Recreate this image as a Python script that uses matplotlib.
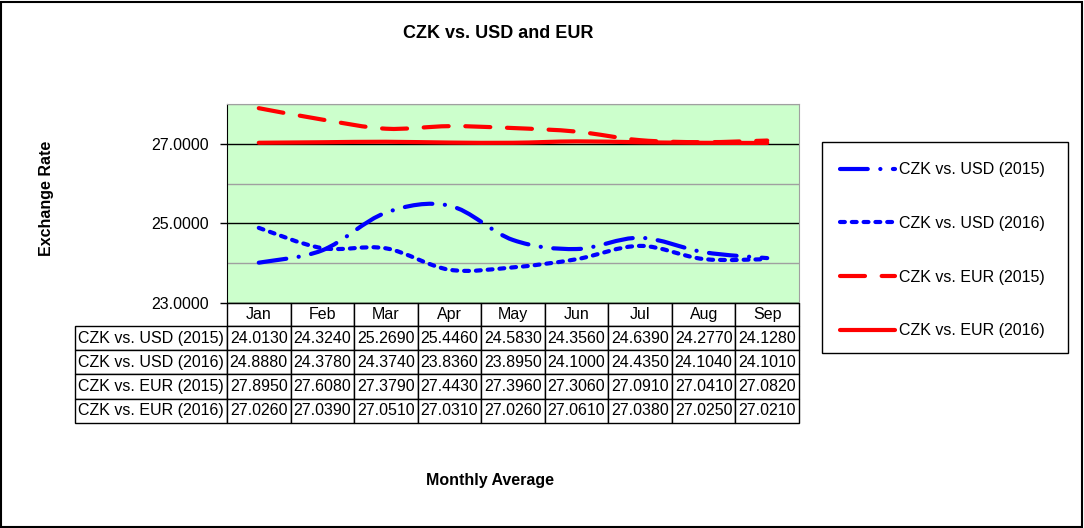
import matplotlib
matplotlib.use("Agg")
import matplotlib.pyplot as plt
import numpy as np
from matplotlib.path import Path
from matplotlib.patches import PathPatch, Rectangle
from matplotlib.lines import Line2D

# Data
months = ['Jan', 'Feb', 'Mar', 'Apr', 'May', 'Jun', 'Jul', 'Aug', 'Sep']
usd_2015 = [24.0130, 24.3240, 25.2690, 25.4460, 24.5830, 24.3560, 24.6390, 24.2770, 24.1280]
usd_2016 = [24.8880, 24.3780, 24.3740, 23.8360, 23.8950, 24.1000, 24.4350, 24.1040, 24.1010]
eur_2015 = [27.8950, 27.6080, 27.3790, 27.4430, 27.3960, 27.3060, 27.0910, 27.0410, 27.0820]
eur_2016 = [27.0260, 27.0390, 27.0510, 27.0310, 27.0260, 27.0610, 27.0380, 27.0250, 27.0210]
labels = ['CZK vs. USD (2015)', 'CZK vs. USD (2016)', 'CZK vs. EUR (2015)', 'CZK vs. EUR (2016)']

# Set params
fs = 11.5
plt.rcParams.update({'font.family': 'Liberation Sans', 'font.size': fs,
                     'lines.scale_dashes': False})

W, H = 1084, 528
fig = plt.figure(figsize=(W / 100, H / 100), dpi=100)
ax = fig.add_axes([227 / W, 1 - 303 / H, 572 / W, 199 / H])
ax.set_facecolor('#CCFFCC')

x = np.arange(len(months))


def smooth_path(xs, ys):
    # Excel style smoothed line: bezier segments through the data points
    pts = np.column_stack([xs, ys]).astype(float)
    verts = [pts[0]]
    codes = [Path.MOVETO]
    n = len(pts)
    for i in range(n - 1):
        p0 = pts[i - 1] if i > 0 else pts[i]
        p1 = pts[i]
        p2 = pts[i + 1]
        p3 = pts[i + 2] if i + 2 < n else pts[i + 1]
        c1 = p1 + (p2 - p0) / 6.0
        c2 = p2 - (p3 - p1) / 6.0
        verts += [c1, c2, p2]
        codes += [Path.CURVE4] * 3
    return Path(verts, codes)


lw = 3
styles = [
    ('#0000FF', (0, (20, 9, 0.1, 9))),
    ('#0000FF', (0, (3.5, 5))),
    ('#FF0000', (0, (18, 12))),
    ('#FF0000', 'solid'),
]
series = [usd_2015, usd_2016, eur_2015, eur_2016]

handles = []
for ys, (col, ls), lab in zip(series, styles, labels):
    p = PathPatch(smooth_path(x, ys), fill=False, edgecolor=col, lw=lw,
                  linestyle=ls, capstyle='round', joinstyle='round', zorder=3)
    ax.add_patch(p)
    handles.append(Line2D([], [], color=col, lw=lw, linestyle=ls,
                          dash_capstyle='round', solid_capstyle='round'))

ax.set_xlim(-0.5, len(months) - 0.5)
ax.set_ylim(23, 28)

# gridlines
ax.set_yticks([23, 25, 27])
ax.set_yticks([24, 26, 28], minor=True)
ax.yaxis.set_major_formatter(matplotlib.ticker.FormatStrFormatter('%.4f'))
ax.grid(axis='y', which='major', color='black', lw=1)
ax.grid(axis='y', which='minor', color='#A0A0A0', lw=1)
ax.tick_params(axis='y', which='major', length=5, width=1, direction='out', pad=8,
               labelsize=fs)
ax.tick_params(axis='y', which='minor', length=0)
ax.set_axisbelow(True)
ax.set_xticks([])
for s in ['top', 'right']:
    ax.spines[s].set_color('#A0A0A0')
ax.spines['left'].set_color('black')
ax.spines['bottom'].set_color('black')

# data table
cell_text = [[''] + months]
for lab, ys in zip(labels, series):
    cell_text.append([lab] + ['%.4f' % v for v in ys])
col_w = [152] + [572 / 9] * 9
tb = ax.table(cellText=cell_text, colWidths=col_w, cellLoc='center',
              bbox=[(75 - 227) / 572, -120 / 199, 724 / 572, 120 / 199])
tb.auto_set_font_size(False)
tb.set_fontsize(fs)
for (r, c), cell in tb.get_celld().items():
    cell.set_linewidth(1)
    cell.set_edgecolor('black')
    cell.set_height(23 if r == 0 else 24.3)
    cell.PAD = 0.02
    if c == 0:
        cell.set_text_props(ha='left')
        cell._loc = 'left'
    if r == 0 and c == 0:
        cell.visible_edges = ''

# legend (frame drawn separately)
leg = fig.legend(handles, labels, loc='upper left',
                 bbox_to_anchor=(822 / W, 1 - 150 / H, 246 / W, 0.01), mode='expand',
                 frameon=False, handlelength=3.45, handletextpad=0.3,
                 labelspacing=2.42, borderpad=1.1, fontsize=fs, borderaxespad=0)
fig.patches.append(Rectangle((822 / W, 1 - 353 / H), 246 / W, 211 / H,
                             transform=fig.transFigure, fill=False,
                             edgecolor='black', lw=1))

fig.text(498 / W, 1 - 34 / H, 'CZK vs. USD and EUR', ha='center', va='center',
         fontsize=13, fontweight='bold')
fig.text(46 / W, 1 - 198 / H, 'Exchange Rate', ha='center', va='center',
         rotation=90, fontsize=fs, fontweight='bold')
fig.text(490 / W, 1 - 480 / H, 'Monthly Average', ha='center', va='center',
         fontsize=fs, fontweight='bold')

fig.patches.append(Rectangle((0.001, 0.002), 0.997, 0.995, transform=fig.transFigure,
                             fill=False, edgecolor='black', lw=1.5))

fig.savefig('out.png', dpi=100)
